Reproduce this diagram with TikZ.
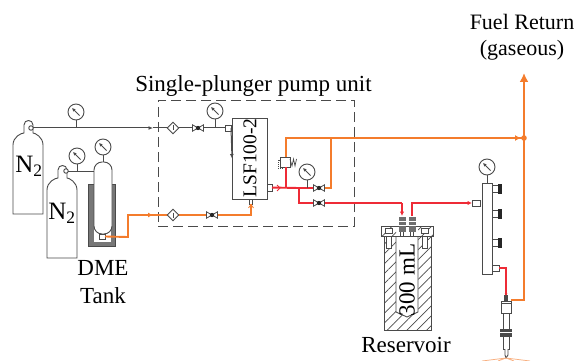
\documentclass[tikz,border=0pt]{standalone}
\usepackage{fontspec}
\setmainfont{Liberation Serif}
\usetikzlibrary{patterns,patterns.meta,arrows.meta,shapes.geometric}
\definecolor{pipeO}{HTML}{F47C2C}
\definecolor{pipeR}{HTML}{EE2B36}
\definecolor{ink}{HTML}{4A4A4A}
\tikzset{
 x=1pt,y=-1pt,
 part/.style={draw=ink,line width=.9pt,fill=white,inner sep=0pt,outer sep=0pt},
 gaugebox/.style={part,circle,minimum size=16pt},
 filterbox/.style={part,diamond,minimum size=11.5pt},
 valvebox/.style={inner sep=0pt,outer sep=0pt,minimum width=11pt,minimum height=6pt},
 txt/.style={text=black,inner sep=0pt,font=\fontsize{22}{24}\selectfont},
 gas/.style={draw=ink,line width=1pt},
 opipe/.style={draw=pipeO,line width=1.9pt},
 rpipe/.style={draw=pipeR,line width=1.9pt},
 otip/.style={-{Latex[length=5pt,width=5pt]}},
 gtip/.style={-{Latex[length=4.5pt,width=4pt]}},
 hatchfill/.style={pattern={Lines[angle=45,distance=7pt,line width=.7pt]},pattern color=ink},
}
\newcommand{\mygauge}[3]{%
 \node[gaugebox] (#1) at (#2,#3) {};
 \draw[ink,line width=.9pt,-{Latex[length=3.5pt,width=3.5pt]}] (#2+3.5,#3+3.5) -- (#2-4,#3-4);
}
\newcommand{\myvalve}[3]{%
 \node[valvebox] (#1) at (#2,#3) {};
 \draw[ink,line width=.8pt,fill=white] (#2-5.5,#3-3.2) -- (#2-5.5,#3+3.2) -- (#2+5.5,#3-3.2) -- (#2+5.5,#3+3.2) -- cycle;
 \fill[black!85] (#2,#3) circle (2.2pt);
}
\newcommand{\myknob}[2]{%
 \draw[part] (#1,#2-3.5) rectangle (#1+6,#2+3.5);
 \fill[black!85] (#1+6,#2-5) rectangle (#1+9.5,#2+5);
}
\newcommand{\mycyl}[5]{%
 \draw[part] (#1,#4) -- (#1,#3+12) .. controls (#1,#3+4) and (#1+8,#3) .. (#5-5,#3)
  -- (#5-5,#3-8) .. controls (#5-5,#3-14) and (#5+4,#3-14) .. (#5+4,#3-8) -- (#5+4,#3)
  .. controls (#2-8,#3) and (#2,#3+4) .. (#2,#3+12) -- (#2,#4) -- cycle;
}
\begin{document}
\begin{tikzpicture}
\useasboundingbox (0,0) rectangle (579,361);

% dashed unit
\node[draw=ink,line width=.9pt,dash pattern=on 10pt off 5pt,minimum width=196pt,minimum height=126pt,inner sep=0pt] (unit) at (256,163) {};

% gas cylinders
\mycyl{13}{43}{133}{214}{29}
\mycyl{47}{77}{178}{258}{63}
\node[txt,font=\fontsize{25}{27}\selectfont] (n1) at (29,166) {N\textsubscript{2}};
\node[txt,font=\fontsize{25}{27}\selectfont] (n2) at (62,213) {N\textsubscript{2}};
\node[part,circle,minimum size=4.5pt] (c1) at (31,128) {};
\node[part,circle,minimum size=4.5pt] (c2) at (66,171) {};

% DME tank with jacket
\fill[ink!75] (88,184) rectangle (115.5,246);
\fill[white] (94,184) rectangle (110.5,242);
\draw[ink,line width=.6pt] (88,184) rectangle (115.5,246);
\node[part,rounded corners=8pt,minimum width=18pt,minimum height=72pt] (tank) at (103,198) {};
\node[part,minimum width=6pt,minimum height=5pt] (tankport) at (102,236.5) {};
\node[txt,font=\fontsize{23}{25}\selectfont] (dme) at (103,268) {DME};
\node[txt,font=\fontsize{23}{25}\selectfont] (tanktxt) at (103,296) {Tank};

% main block
\node[part,minimum width=35pt,minimum height=81pt] (lsf) at (249.5,158.5) {};
\node[txt,rotate=90,font=\fontsize{19.5}{21}\selectfont] (lsftxt) at (250,158) {LSF100-2};
\node[part,minimum width=5pt,minimum height=7pt] (lsfout) at (269.5,187.5) {};
\node[part,minimum width=3.5pt,minimum height=5pt] (lsfin) at (251,201.5) {};
\node[part,minimum width=6pt,minimum height=6pt] (lsfgas) at (228,128) {};

% gauges
\mygauge{g1}{76}{112}
\mygauge{g2}{77}{156}
\mygauge{g3}{103}{147}
\mygauge{g4}{215}{111}
\mygauge{g5}{307}{172}
\mygauge{g6}{487}{167}

% gas line
\coordinate (j1) at (76,128);
\coordinate (j4) at (215,128);
\coordinate (j2) at (77,171);
\coordinate (a1) at (153,128);
\draw[gas,gtip] (c1) -- (a1);
\draw[gas] (a1) -- (lsfgas);
\draw[gas,gtip] (lsfgas.east) -- (lsf.west);
\draw[gas] (g1) -- (j1);
\draw[gas] (g4) -- (j4);
\draw[gas] (c2) -- (tank.west |- c2);
\draw[gas] (g2) -- (j2);
\draw[gas] (g3) -- (tank);
\node[filterbox] (f1) at (173,128) {};
\draw[ink,line width=.6pt] (173,125.5) -- (173,130.5);
\myvalve{v1}{198}{128}

% fuel feed
\coordinate (o1) at (128,237);
\coordinate (o2) at (128,215);
\coordinate (o3) at (251,215);
\draw[opipe] (tankport.east) -- (o1) -- (o2) -- (o3) -- (lsfin.south);
\draw[opipe,otip] (o2) -- (153,215);
\draw[pipeO,line width=.8pt] (248.5,208) -- (251,204.5) -- (253.5,208);
\node[filterbox] (f2) at (173,215) {};
\draw[ink,line width=.6pt] (173,212.5) -- (173,217.5);
\myvalve{v2}{212}{215}

% high pressure
\coordinate (r1) at (286,188);
\coordinate (r2) at (299,188);
\coordinate (r3) at (299,203);
\coordinate (r4) at (307,188);
\coordinate (o4) at (331,188);
\coordinate (o5) at (331,138);
\coordinate (o6) at (286,138);
\coordinate (o7) at (524,138);
\coordinate (o8) at (524,73);
\coordinate (r5) at (402,203);
\coordinate (r6) at (402,216);
\coordinate (r7) at (412,216);
\coordinate (r8) at (412,203);
\node[part,minimum width=10pt,minimum height=10pt] (rv) at (285,162) {};
\draw[ink,line width=.7pt] (290,159) -- (292,166) -- (293.5,159) -- (295,166) -- (296.5,159);
\draw[ink,line width=.7pt,dash pattern=on 1pt off 1pt] (280,160) -- (278,160) -- (278,168) -- (284,168);
\draw[rpipe] (lsfout) -- (r2);
\draw[rpipe] (r2) -- (r4) -- (319,188);
\draw[pipeR,line width=.8pt] (277,185) -- (280,188) -- (277,191);
\draw[rpipe] (r1) -- (rv.south -| r1);
\draw[rpipe] (r2) -- (r3) -- (r5);
\draw[rpipe,-{Latex[length=4.5pt,width=4.5pt]}] (r5) -- (r6);
\draw[opipe] (rv.north -| o6) -- (o6) -- (o7);
\draw[opipe] (319,188) -- (o4) -- (o5);
\draw[gas] (g5) -- (r4);
\myvalve{v3}{319}{188}
\myvalve{v4}{319}{203}

% rail
\node[part,minimum width=10pt,minimum height=91pt] (rail) at (487,228.5) {};
\draw[gas] (g6) -- (rail);
\node[part,minimum width=8pt,minimum height=6pt] (railin) at (476,203) {};
\myknob{492}{189}
\myknob{492}{214}
\myknob{492}{243}
\node[part,minimum width=7pt,minimum height=6pt] (railout) at (495.5,268) {};
\draw[rpipe,-{Latex[length=4.5pt,width=4.5pt]}] (r7) -- (r8) -- (railin);

% reservoir
\draw[draw=ink,line width=.9pt,hatchfill] (384,236) rectangle (431,330);
\fill[white] (396,236) -- (418,236) -- (418,312) -- (407,317) -- (396,312) -- cycle;
\draw[ink,line width=.9pt] (396,236) -- (396,312) -- (407,317) -- (418,312) -- (418,236);
\node[part,minimum width=52pt,minimum height=10pt] (flange) at (407,231) {};
\fill[hatchfill] (381,226) rectangle (396,236) (418,226) rectangle (433,236);
\draw[ink,line width=.9pt] (381,226) rectangle (433,236);
\foreach \bx in {389,425}{
 \draw[ink,line width=.7pt,fill=white] (\bx-2.5,236) rectangle (\bx+2.5,248);
 \draw[ink,line width=.7pt,fill=white] (\bx-3.5,228) rectangle (\bx+3.5,233);
}
\foreach \bx in {402,412}{
 \fill[ink!80] (\bx-3.5,217) rectangle (\bx+3.5,232);
 \draw[white,line width=.5pt] (\bx-3.5,221) -- (\bx+3.5,221) (\bx-3.5,225) -- (\bx+3.5,225);
 \draw[ink,line width=.7pt] (\bx-1.5,232) -- (\bx-1.5,236) (\bx+1.5,232) -- (\bx+1.5,236);
}
\node[txt,rotate=90,font=\fontsize{23}{25}\selectfont] (ml) at (407,280) {300 mL};
\node[txt,font=\fontsize{23}{25}\selectfont] (res) at (406,345) {Reservoir};

% injector
\coordinate (r9) at (506,268);
\coordinate (r10) at (506,295);
\coordinate (o9) at (524,300);
\draw[rpipe] (railout) -- (r9) -- (r10);
\draw[part] (503,311) rectangle (509,349);
\draw[part] (505,349) -- (505,355) -- (506,358) -- (508,355) -- (508,349);
\node[part,minimum width=10pt,minimum height=12pt] (inj) at (506,307) {};
\draw[ink,line width=.7pt] (501,303) -- (511,303);
\fill[ink] (500,329) rectangle (512,337);
\draw[white,line width=.4pt] (500,332) -- (512,332);
\fill[ink] (504,295) rectangle (508,301);
\draw[pipeR,line width=1pt,-{Latex[length=3pt,width=3pt]}] (506,290) -- (506,296);
\draw[opipe] (inj.north east |- o9) -- (o9) -- (o7);
\draw[opipe,-{Latex[length=9pt,width=9pt]}] (o7) -- (o8);
\fill[pipeO] (o7) circle (2.8pt);
\draw[opipe,-{Latex[length=6pt,width=6pt]}] (510,138) -- (521,138);
\draw[pipeO!60,line width=.8pt] (506,358) -- (482,361) (506,358) -- (530,361) (506,358) -- (498,361) (506,358) -- (514,361);

% labels
\node[txt,font=\fontsize{23}{25}\selectfont] (unittxt) at (253.5,86) {Single-plunger pump unit};
\node[txt] (fr1) at (522,22) {Fuel Return};
\node[txt] (fr2) at (522,50) {(gaseous)};
\end{tikzpicture}
\end{document}
